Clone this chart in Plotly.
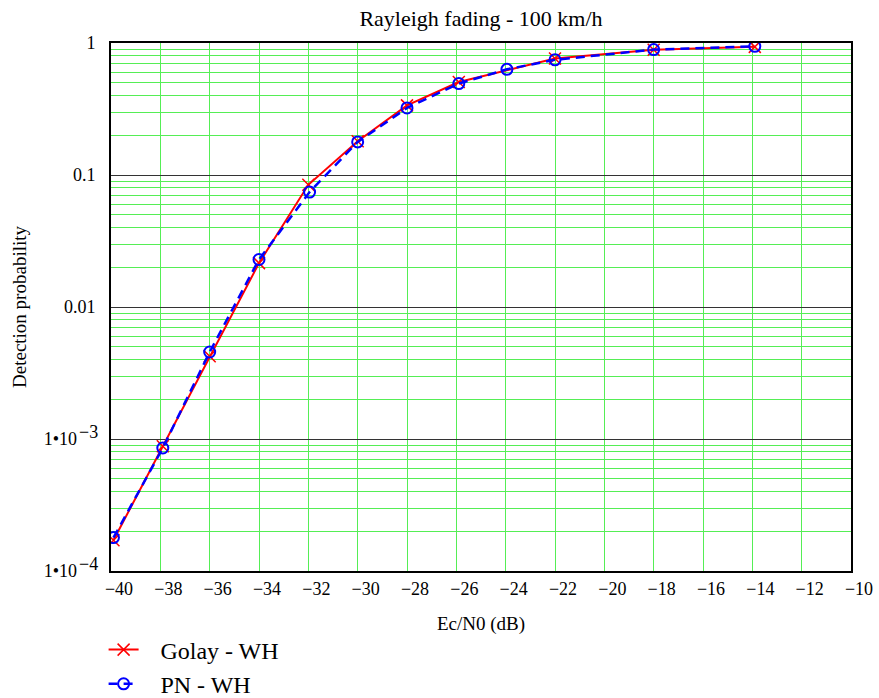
import math
import plotly.graph_objects as go

# ---- data ----
golay_x = [-39.9, -37.9, -36, -34, -32, -30, -28, -25.9, -22, -18, -13.9]
golay_y = [1.71e-4, 8.8e-4, 4.23e-3, 0.0215, 0.0843, 0.18, 0.337, 0.506, 0.762, 0.89, 0.935]

pn_x = [-39.9, -37.9, -36, -34, -31.95, -30, -28, -25.9, -23.95, -22, -18, -13.9]
pn_y = [1.79e-4, 8.55e-4, 4.56e-3, 0.0229, 0.0743, 0.178, 0.322, 0.4925, 0.632, 0.746, 0.891, 0.944]

series_names = ["Golay - WH", "PN - WH"]

x_tickvals = [-40, -38, -36, -34, -32, -30, -28, -26, -24, -22, -20, -18, -16, -14, -12, -10]
x_ticktext = ["\u2212" + str(abs(v)) for v in x_tickvals]

# decade labels written plainly
y_tickvals = [0.01, 0.1, 1]
y_ticktext = ["0.01", "0.1", "1"]
# decade labels written as 1•10 with a full-size exponent
y_pow_tickvals = [1e-4, 1e-3]
y_pow_ticktext = ["1\u202210", "1\u202210"]
y_pow_exponent = ["\u22124", "\u22123"]

FONT = "Liberation Serif"
GREEN = "#55ee55"

fig = go.Figure()
fig.add_trace(go.Scatter(
    x=golay_x, y=golay_y, name="\u2002\u2009" + series_names[0], mode="lines+markers",
    line=dict(color="#ff0000", width=2),
    marker=dict(symbol="x-thin-open", size=12, color="#ff0000",
                line=dict(color="#ff0000", width=1.5)),
))
fig.add_trace(go.Scatter(
    x=pn_x, y=pn_y, name="\u2002\u2009" + series_names[1], mode="lines+markers",
    line=dict(color="#0000ff", width=2.5, dash="9px,6px"),
    marker=dict(symbol="circle-open", size=11, color="#0000ff",
                line=dict(color="#0000ff", width=2)),
))
# empty trace that keeps the second (label-only) y axis alive
fig.add_trace(go.Scatter(x=[None], y=[None], yaxis="y2", showlegend=False,
                         hoverinfo="skip", mode="markers"))

for v, e in zip(y_pow_tickvals, y_pow_exponent):
    fig.add_annotation(
        x=0, xref="paper", y=math.log10(v), yref="y", text=e, showarrow=False,
        xanchor="right", yanchor="middle", xshift=-11, yshift=7,
        font=dict(family=FONT, size=18, color="black"),
    )

fig.update_layout(
    width=879, height=698,
    margin=dict(l=111, r=28, t=43, b=127, autoexpand=False),
    paper_bgcolor="white", plot_bgcolor="white",
    font=dict(family=FONT, color="black", size=18),
    title=dict(text="Rayleigh fading - 100 km/h", x=0.5, xref="paper",
               y=1 - 18 / 698, yref="container", yanchor="middle",
               font=dict(family=FONT, size=22, color="black")),
    legend=dict(x=-0.01, y=-0.107, xanchor="left", yanchor="top",
                font=dict(family=FONT, size=24, color="black"),
                bgcolor="rgba(0,0,0,0)", tracegroupgap=0, itemwidth=30),
    showlegend=True,
    yaxis2=dict(
        type="log", range=[-4, 0], overlaying="y", side="left",
        tickvals=y_pow_tickvals, ticktext=y_pow_ticktext,
        showgrid=False, showline=False, zeroline=False, ticks="",
        ticklabelstandoff=33, automargin=False,
        tickfont=dict(family=FONT, size=18),
    ),
)

fig.update_xaxes(
    range=[-40, -10], tickvals=x_tickvals, ticktext=x_ticktext,
    showgrid=True, gridcolor=GREEN, gridwidth=1,
    showline=True, mirror=True, linecolor="black", linewidth=2,
    ticks="", ticklabelshift=8, zeroline=False, automargin=False,
    tickfont=dict(family=FONT, size=18),
    title=dict(text="Ec/N0 (dB)", font=dict(family=FONT, size=19), standoff=19),
)
fig.update_yaxes(
    selector=dict(overlaying=None),
    type="log", range=[-4, 0], tickvals=y_tickvals + y_pow_tickvals,
    ticktext=y_ticktext + ["", ""],
    showgrid=True, gridcolor="#333333", gridwidth=1,
    minor=dict(showgrid=True, gridcolor=GREEN, gridwidth=1, dtick="D1", ticks=""),
    showline=True, mirror=True, linecolor="black", linewidth=2,
    ticks="", ticklabelstandoff=10, zeroline=False, automargin=False,
    tickfont=dict(family=FONT, size=18),
    title=dict(text="Detection probability", font=dict(family=FONT, size=19), standoff=32),
)

fig.write_html("out.html")
